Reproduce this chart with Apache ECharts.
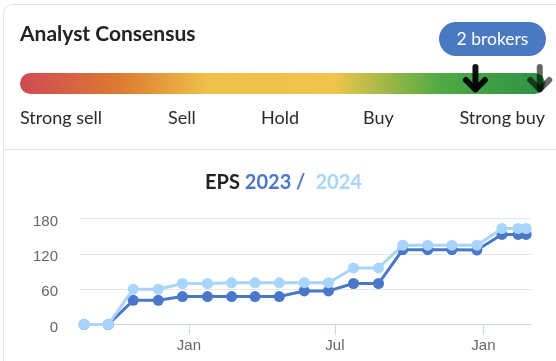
<!DOCTYPE html>
<html>
<head>
<meta charset="utf-8">
<script src="https://cdn.jsdelivr.net/npm/echarts@6/dist/echarts.min.js"></script>
<style>
html,body{margin:0;padding:0;background:#fff;}
#chart{width:556px;height:361px;}
</style>
</head>
<body>
<div id="chart"></div>
<script>
// ---- data ----
var dates = ['2022-08-24','2022-09-23','2022-10-24','2022-11-24','2022-12-24',
  '2023-01-24','2023-02-23','2023-03-24','2023-04-23','2023-05-24','2023-06-23',
  '2023-07-24','2023-08-24','2023-09-23','2023-10-24','2023-11-23','2023-12-24',
  '2024-01-24','2024-02-13','2024-02-23'];
var eps2023 = [0,0,41,41,47.5,47.5,47.5,47.5,47.5,57,57,69.6,69.6,127,127,127,126.5,153,153,153];
var eps2024 = [0,0,60,60,69.6,69.6,70.7,70.7,70.7,71,71,96,96,134.6,134.6,134.6,134.6,163,163,163];
var yTicks = [0,60,120,180];
var monthNames = ['Jan','Feb','Mar','Apr','May','Jun','Jul','Aug','Sep','Oct','Nov','Dec'];
var xLabelDates = ['2023-01-01','2023-07-01','2024-01-01'];
var ratingLabels = ['Strong sell','Sell','Hold','Buy','Strong buy'];
var brokerCount = 2;
var brokerRatings = [4.47, 4.96]; // on a 1 (Strong sell) .. 5 (Strong buy) scale
var titleParts = ['EPS','2023','2024'];

function ts(s){ var p=s.split('-'); return new Date(+p[0], +p[1]-1, +p[2]).getTime(); }

var chart = echarts.init(document.getElementById('chart'), null, {renderer:'canvas'});

var lineSeries = function(name, vals, color, z){
  return {
    name: name, type:'line', xAxisIndex:0, yAxisIndex:0,
    data: dates.map(function(d,i){ return [ts(d), vals[i]]; }),
    symbol:'circle', symbolSize:11, showSymbol:true,
    lineStyle:{color:color, width:3}, itemStyle:{color:color},
    z: z, animation:false
  };
};

var labelPos = [
  {x:20, align:'left'}, {x:168, align:'left'}, {x:261, align:'left'},
  {x:363, align:'left'}, {x:545, align:'right'}
];

var graphics = [
  {type:'rect', shape:{x:3.5,y:4.5,width:700,height:700,r:9}, style:{fill:'none',stroke:'#e3e3e3',lineWidth:1}, z:-10},
  {type:'line', shape:{x1:3.5,y1:149.5,x2:556,y2:149.5}, style:{stroke:'#e3e3e3',lineWidth:1}, z:-10},
  {type:'text', x:20, y:34.5, style:{text:'Analyst Consensus', font:'bold 21px Lato', fill:'#222', textVerticalAlign:'middle'}},
  {type:'rect', shape:{x:439,y:22,width:107,height:34,r:17}, style:{fill:'#4a78c1'}},
  {type:'text', x:492.5, y:39, style:{text:brokerCount+' brokers', font:'17.5px Lato', fill:'#fff', textAlign:'center', textVerticalAlign:'middle'}},
  {type:'rect', shape:{x:20,y:73,width:525,height:21,r:10.5}, style:{
    fill: new echarts.graphic.LinearGradient(0,0,1,0,[
      {offset:0, color:'#cf4a55'},
      {offset:0.19, color:'#dc7b30'},
      {offset:0.36, color:'#efc14a'},
      {offset:0.6, color:'#efc54c'},
      {offset:0.70, color:'#9cb847'},
      {offset:0.80, color:'#4faa44'},
      {offset:1, color:'#2e9245'}
    ])}, z:-1}
];
ratingLabels.forEach(function(t,i){
  graphics.push({type:'text', x:labelPos[i].x, y:118.5, style:{text:t, font:'18px Lato', fill:'#2a2a2a', textAlign:labelPos[i].align, textVerticalAlign:'middle'}});
});

var option = {
  animation:false,
  textStyle:{fontFamily:'Liberation Sans, Arial, sans-serif'},
  title:{
    left:200, top:168,
    text:'{a|'+titleParts[0]+'} {b|'+titleParts[1]+' /}  {c|'+titleParts[2]+'}',
    textStyle:{
      rich:{
        a:{fontFamily:'Lato', fontWeight:'bold', fontSize:20, color:'#222'},
        b:{fontFamily:'Lato', fontWeight:'bold', fontSize:20, color:'#4a77c9'},
        c:{fontFamily:'Lato', fontWeight:'bold', fontSize:20, color:'#a9d4fb'}
      }
    }
  },
  graphic: graphics,
  grid:[
    {left:80, right:25, top:218.5, bottom:36.5},
    {left:20, width:525, top:60, height:40}
  ],
  xAxis:[
    {
      type:'value', gridIndex:0,
      min: ts('2022-08-19'), max: ts('2024-02-29'),
      axisLine:{show:true, lineStyle:{color:'#ccd6eb', width:1}},
      axisTick:{show:true, length:10, lineStyle:{color:'#ccd6eb'}, customValues: xLabelDates.map(ts)},
      axisLabel:{color:'#666', fontSize:15, margin:14, customValues: xLabelDates.map(ts),
        formatter:function(v){ return monthNames[new Date(v).getMonth()]; }},
      splitLine:{show:false}
    },
    {
      type:'value', gridIndex:1, min:1, max:5, show:false
    }
  ],
  yAxis:[
    {
      type:'value', gridIndex:0, min:yTicks[0], max:yTicks[yTicks.length-1], interval:yTicks[1]-yTicks[0],
      axisLine:{show:false}, axisTick:{show:false},
      axisLabel:{margin:22, formatter:function(v){ return '{v|'+v+'}'; },
        rich:{v:{color:'#666', fontSize:15, fontFamily:'Liberation Sans, Arial, sans-serif', padding:[6,0,0,0]}}},
      splitLine:{lineStyle:{color:'#e6e6e6', width:1}}
    },
    {type:'value', gridIndex:1, min:0, max:1, show:false}
  ],
  series:[
    lineSeries('2023', eps2023, '#4a77c9', 2),
    lineSeries('2024', eps2024, '#a9d4fb', 3),
    {
      type:'custom', xAxisIndex:1, yAxisIndex:1, z:10,
      data: brokerRatings.map(function(r){ return [r, 0.5]; }),
      renderItem:function(params, api){
        var p = api.coord([api.value(0), api.value(1)]);
        var x = p[0];
        var col = params.dataIndex === 0 ? 'rgba(0,0,0,0.93)' : 'rgba(0,0,0,0.6)';
        var st = {stroke:col, lineWidth:6, lineCap:'round', lineJoin:'round', fill:'none'};
        return {
          type:'group',
          children:[
            {type:'polyline', shape:{points:[[x,67],[x,89]]}, style:st},
            {type:'polyline', shape:{points:[[x-9.5,80],[x,89.5],[x+9.5,80]]}, style:st}
          ]
        };
      },
      animation:false
    }
  ]
};
chart.setOption(option);
</script>
</body>
</html>
